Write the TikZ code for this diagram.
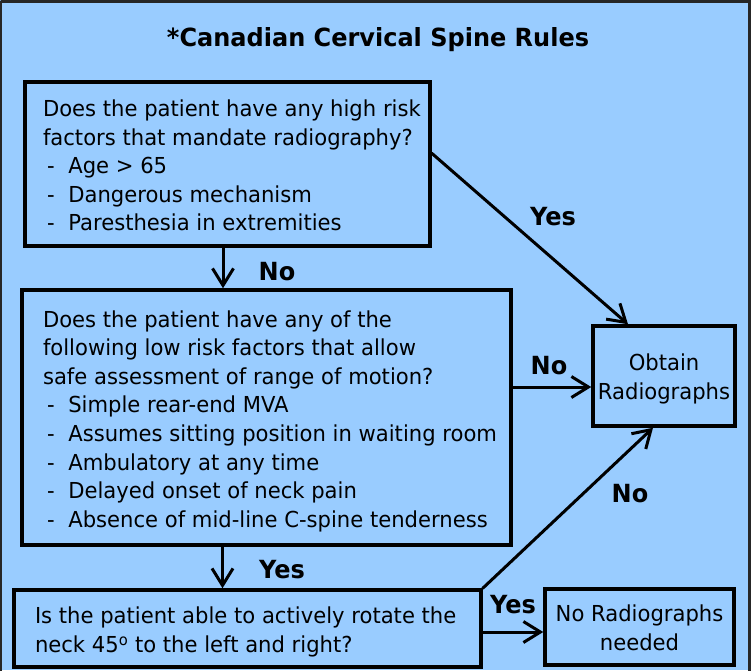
\documentclass[tikz,border=0pt]{standalone}
\usepackage{fontspec}
\setmainfont{DejaVu Sans}[FakeStretch=0.96]
\usetikzlibrary{arrows.meta}
\definecolor{sky}{HTML}{99CCFF}
\newcommand{\boxlines}[2]{\raisebox{-4pt}[\height][\depth]{\makebox[#1][l]{\begin{tabular}{@{}l@{}}#2\end{tabular}}}}
\newcommand{\centrelines}[1]{\raisebox{-3pt}[\height][\depth]{\begin{tabular}{@{}c@{}}#1\end{tabular}}}
\newcommand{\riskitem}{\hspace*{4pt}- \hspace{7pt}}

\begin{document}
\begin{tikzpicture}[x=1pt,y=-1pt,line cap=round,
  >={Straight Barb[length=17pt,width=21pt]},
  font=\fontsize{22}{28.6}\selectfont,
  qbox/.style={draw,line width=3.5pt,fill=sky,inner ysep=0pt},
  arr/.style={->,line width=3pt},
  lbl/.style={font=\fontsize{25}{30}\selectfont\bfseries}]
\useasboundingbox (0,0) rectangle (751,670);
\fill[sky] (0,0) rectangle (751,670);
\draw[line width=3pt,black!85] (1.5,1.5) -- (749.5,1.5) -- (749.5,720);
\draw[line width=1.5pt,black!85] (0.75,1.5) -- (0.75,720);
\node[font=\fontsize{25}{30}\selectfont\bfseries] (title) at (378,40) {*Canadian Cervical Spine Rules};
% questions
\node[qbox,minimum width=405pt,minimum height=164pt,inner xsep=18pt] (risk) at (227.5,164)
  {\boxlines{369pt}{Does the patient have any high risk\\
  factors that mandate radiography?\\
  \riskitem Age > 65\\
  \riskitem Dangerous mechanism\\
  \riskitem Paresthesia in extremities}};
\node[qbox,minimum width=489pt,minimum height=255pt,inner xsep=21pt] (low) at (266.5,417.5)
  {\boxlines{447pt}{Does the patient have any of the\\
  following low risk factors that allow\\
  safe assessment of range of motion?\\
  \riskitem Simple rear-end MVA\\
  \riskitem Assumes sitting position in waiting room\\
  \riskitem Ambulatory at any time\\
  \riskitem Delayed onset of neck pain\\
  \riskitem Absence of mid-line C-spine tenderness}};
\node[qbox,minimum width=467pt,minimum height=77pt,inner xsep=21pt] (rotate) at (247.5,628.5)
  {\boxlines{425pt}{Is the patient able to actively rotate the\\
  neck 45\textsuperscript{o} to the left and right?}};
% outcomes
\node[qbox,minimum width=142pt,minimum height=100pt] (xray) at (664,376)
  {\centrelines{Obtain\\Radiographs}};
\node[qbox,minimum width=189pt,minimum height=76pt] (noxray) at (639.5,627)
  {\centrelines{No Radiographs\\needed}};
% connectors
\draw[arr] ([xshift=-4.5pt]risk.south) -- ([xshift=-4.5pt]risk.south |- low.north);
\draw[arr] ([yshift=-73pt]risk.north east) -- ([xshift=-36pt]xray.north);
\draw[arr] ([yshift=30.5pt]low.east) -- ([yshift=30.5pt]low.east -| xray.west);
\draw[arr] ([xshift=-44pt]low.south) -- ([xshift=-44pt]low.south |- rotate.north);
\draw[arr] (rotate.north east) -- ([xshift=-11pt]xray.south);
\draw[arr] ([yshift=-3.5pt]rotate.east) -- ([yshift=-3.5pt]rotate.east -| noxray.west);
% labels
\node[lbl] (no1) at (277,272) {No};
\node[lbl] (yes1) at (553,217) {Yes};
\node[lbl] (no2) at (549,366) {No};
\node[lbl] (yes2) at (282,570) {Yes};
\node[lbl] (no3) at (630,494) {No};
\node[lbl] (yes3) at (513,605) {Yes};
\end{tikzpicture}
\end{document}
